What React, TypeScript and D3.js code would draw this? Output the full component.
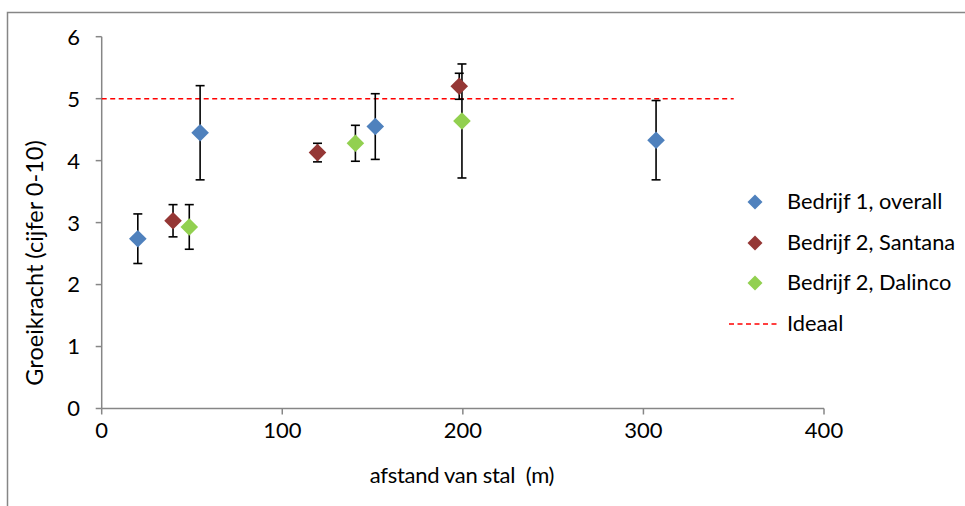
import React from "react";
import * as d3 from "d3";

const seriesNames = ["Bedrijf 1, overall", "Bedrijf 2, Santana", "Bedrijf 2, Dalinco"];
const seriesColors = ["#4F81BD", "#953735", "#92D050"];

const s1X = [20, 54.5, 151.5, 307];
const s1Y = [2.74, 4.45, 4.55, 4.33];
const s1Err = [0.4, 0.76, 0.53, 0.64];

const s2X = [39.5, 119.5, 198];
const s2Y = [3.03, 4.13, 5.2];
const s2Err = [0.26, 0.15, 0.21];

const s3X = [48.5, 140.5, 199.5];
const s3Y = [2.93, 4.28, 4.64];
const s3Err = [0.36, 0.29, 0.92];

const idealValue = 5;
const idealRange = [0, 350];
const idealLabel = "Ideaal";

const xTicks = [0, 100, 200, 300, 400];
const yTicks = [0, 1, 2, 3, 4, 5, 6];
const xTitle = "afstand van stal  (m)";
const yTitle = "Groeikracht (cijfer 0-10)";

const FONT = "Lato, 'Open Sans', sans-serif";
const AXIS = "#868686";

const diamond = (r: number) => `M0,${-r}L${r},0L0,${r}L${-r},0Z`;

export default function App() {
  const x = d3.scaleLinear().domain([0, 400]).range([101.7, 824]);
  const y = d3.scaleLinear().domain([0, 6]).range([408.5, 36.7]);

  const series = [
    { xs: s1X, ys: s1Y, es: s1Err },
    { xs: s2X, ys: s2Y, es: s2Err },
    { xs: s3X, ys: s3Y, es: s3Err },
  ].map((s, i) => ({
    name: seriesNames[i],
    color: seriesColors[i],
    pts: s.xs.map((xv, j) => ({ x: xv, y: s.ys[j], e: s.es[j] })),
  }));

  const capHalf = 4.5;
  const legendX = 755;
  const legendY = [202, 243, 283, 324];

  return (
    <svg
      width={965}
      height={506}
      style={{ position: "absolute", left: 0, top: 0, background: "#fff" }}
      fontFamily={FONT}
    >
      <rect x={0} y={0} width={965} height={506} fill="#fff" />
      <rect x={7.5} y={12.5} width={1000} height={600} fill="none" stroke={AXIS} strokeWidth={1.5} />

      {/* y axis */}
      <line x1={x(0)} x2={x(0)} y1={y(0)} y2={y(6)} stroke={AXIS} strokeWidth={1.5} />
      {yTicks.map((t) => (
        <g key={"yt" + t}>
          <line x1={x(0) - 6} x2={x(0)} y1={y(t)} y2={y(t)} stroke={AXIS} strokeWidth={1.5} />
          <text x={80} y={y(t)} dy="0.36em" textAnchor="end" fontSize={22} fill="#000">
            {t}
          </text>
        </g>
      ))}

      {/* x axis */}
      <line x1={x(0)} x2={x(400)} y1={y(0)} y2={y(0)} stroke={AXIS} strokeWidth={1.5} />
      {xTicks.map((t) => (
        <g key={"xt" + t}>
          <line x1={x(t)} x2={x(t)} y1={y(0)} y2={y(0) + 6} stroke={AXIS} strokeWidth={1.5} />
          <text x={x(t)} y={438} textAnchor="middle" fontSize={22} fill="#000">
            {t}
          </text>
        </g>
      ))}

      <text
        x={462}
        y={483}
        textAnchor="middle"
        fontSize={22}
        fill="#000"
        letterSpacing={-0.3}
        style={{ whiteSpace: "pre" }}
      >
        {xTitle}
      </text>
      <text
        transform={`translate(42.5,263) rotate(-90)`}
        textAnchor="middle"
        fontSize={23.5}
        fill="#000"
      >
        {yTitle}
      </text>

      {/* ideal line */}
      <line
        x1={x(idealRange[0])}
        x2={x(idealRange[1])}
        y1={y(idealValue)}
        y2={y(idealValue)}
        stroke="#FF0000"
        strokeWidth={1.5}
        strokeDasharray="5,3.5"
      />

      {/* error bars */}
      {series.map((s, i) =>
        s.pts.map((p, j) => (
          <g key={`e${i}-${j}`} stroke="#000" strokeWidth={1.6}>
            <line x1={x(p.x)} x2={x(p.x)} y1={y(p.y + p.e)} y2={y(p.y - p.e)} />
            <line x1={x(p.x) - capHalf} x2={x(p.x) + capHalf} y1={y(p.y + p.e)} y2={y(p.y + p.e)} />
            <line x1={x(p.x) - capHalf} x2={x(p.x) + capHalf} y1={y(p.y - p.e)} y2={y(p.y - p.e)} />
          </g>
        ))
      )}

      {/* markers */}
      {series.map((s, i) =>
        s.pts.map((p, j) => (
          <path
            key={`m${i}-${j}`}
            d={diamond(8.8)}
            transform={`translate(${x(p.x)},${y(p.y)})`}
            fill={s.color}
          />
        ))
      )}

      {/* legend */}
      {series.map((s, i) => (
        <g key={"lg" + i}>
          <path d={diamond(7.5)} transform={`translate(${legendX},${legendY[i]})`} fill={s.color} />
          <text x={787} y={legendY[i] + 7} fontSize={21.8} fill="#000">
            {s.name}
          </text>
        </g>
      ))}
      <line
        x1={729}
        x2={777}
        y1={legendY[3]}
        y2={legendY[3]}
        stroke="#FF0000"
        strokeWidth={1.5}
        strokeDasharray="5,3.5"
      />
      <text x={787} y={legendY[3] + 7} fontSize={21.8} fill="#000">
        {idealLabel}
      </text>
    </svg>
  );
}
